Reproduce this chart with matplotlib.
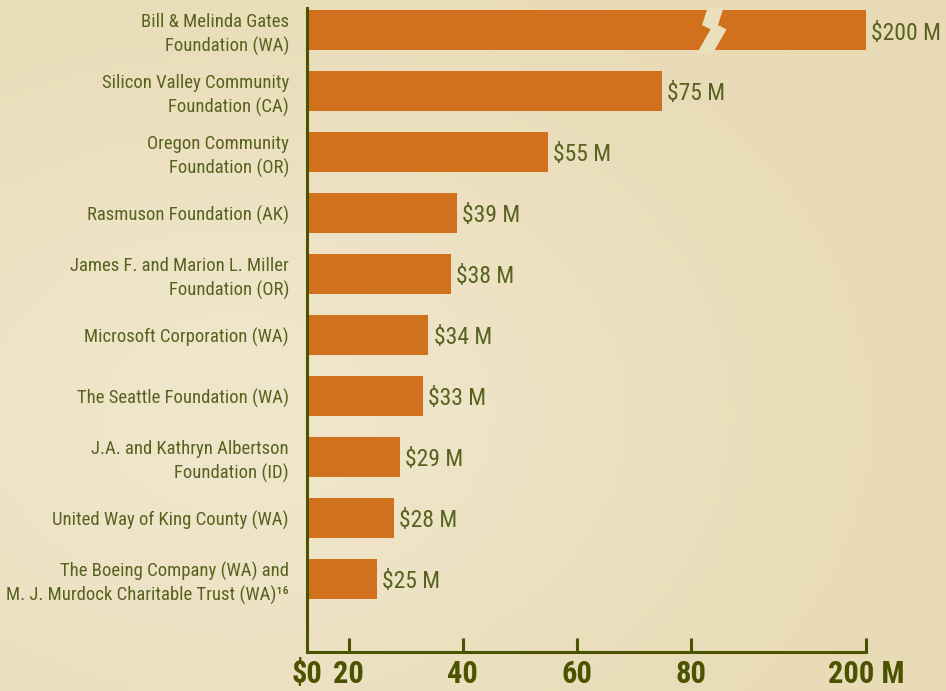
import numpy as np
import matplotlib.pyplot as plt
from matplotlib.patches import Polygon


# Top donors, values in millions of dollars

donors = [
    "Bill & Melinda Gates\nFoundation (WA)",
    "Silicon Valley Community\nFoundation (CA)",
    "Oregon Community\nFoundation (OR)",
    "Rasmuson Foundation (AK)",
    "James F. and Marion L. Miller\nFoundation (OR)",
    "Microsoft Corporation (WA)",
    "The Seattle Foundation (WA)",
    "J.A. and Kathryn Albertson\nFoundation (ID)",
    "United Way of King County (WA)",
    "The Boeing Company (WA) and\nM. J. Murdock Charitable Trust (WA)\u00b9\u2076",
]

amounts = [200, 75, 55, 39, 38, 34, 33, 29, 28, 25]

value_labels = [f"${v} M" for v in amounts]

tick_values = [0, 20, 40, 60, 80, 200]
tick_labels = ["$0", "20", "40", "60", "80", "200 M"]


# Broken axis: the scale is linear up to 80, then squeezed

axis_start = 12.7
break_from = 80
squeeze = 30.8 / 120


def to_axis(v):
    if v <= break_from:
        return v
    return break_from + (v - break_from) * squeeze


bg_color = "#EEE3C4"
bar_color = "#D1701D"
label_color = "#57621F"
axis_color = "#4B5200"

plt.rcParams["font.family"] = ["Roboto Condensed", "Archivo Narrow", "DejaVu Sans"]

fig = plt.figure(figsize=(9.46, 6.91), dpi=100, facecolor=bg_color)

# soft paper-like background shading
bg = fig.add_axes([0, 0, 1, 1], zorder=-5)
gx, gy = np.meshgrid(np.linspace(0, 1, 200), np.linspace(0, 1, 150))
shade = np.exp(-((gx - 0.25) ** 2 + (gy - 0.6) ** 2) / 0.25)
light = np.array([0xF0, 0xE6, 0xCB]) / 255
dark = np.array([0xE8, 0xDA, 0xB4]) / 255
img = dark + (light - dark) * shade[..., None]
bg.imshow(img, aspect="auto", extent=[0, 1, 0, 1], origin="upper")
bg.axis("off")

ax = fig.add_axes([307 / 946, 39 / 691, 639 / 946, 644 / 691])
ax.set_facecolor("none")

y = list(range(len(donors)))
widths = [to_axis(v) for v in amounts]

ax.barh(y, widths, height=0.656, color=bar_color, zorder=2)

for yi, w, text in zip(y, widths, value_labels):
    ax.text(
        w + 0.9, yi + 0.05, text,
        ha="left", va="center",
        fontsize=17, color=label_color
    )

# lightning shaped gap in the first bar
bx = 83.6
gap = [
    (bx - 0.5, -0.40), (bx - 1.6, -0.08), (bx - 0.1, -0.01), (bx - 2.6, 0.40),
    (bx + 0.2, 0.40), (bx + 2.7, -0.01), (bx + 1.2, -0.08), (bx + 2.3, -0.40),
]
ax.add_patch(Polygon(gap, closed=True, facecolor="#EBDFBD",
                     edgecolor="none", zorder=3))

ax.set_xlim(axis_start, axis_start + 639 / 5.7)
ax.set_ylim(10.2, -0.36)

ax.set_yticks(y)
ax.set_yticklabels(donors, fontsize=13.5, color=label_color,
                   linespacing=1.35)
ax.tick_params(axis="y", length=0, pad=13)

tick_pos = [axis_start if v == 0 else to_axis(v) for v in tick_values]
ax.set_xticks(tick_pos)
ax.set_xticklabels(tick_labels, fontsize=22, fontweight="bold",
                   color=axis_color)
ax.tick_params(axis="x", direction="in", length=10, width=2.2,
               color=axis_color, pad=5)

for side in ["top", "right"]:
    ax.spines[side].set_visible(False)
for side in ["left", "bottom"]:
    ax.spines[side].set_color(axis_color)
    ax.spines[side].set_linewidth(2.2)
ax.spines["bottom"].set_bounds(axis_start, to_axis(200))

fig.savefig("out.png", dpi=100, facecolor=bg_color)
